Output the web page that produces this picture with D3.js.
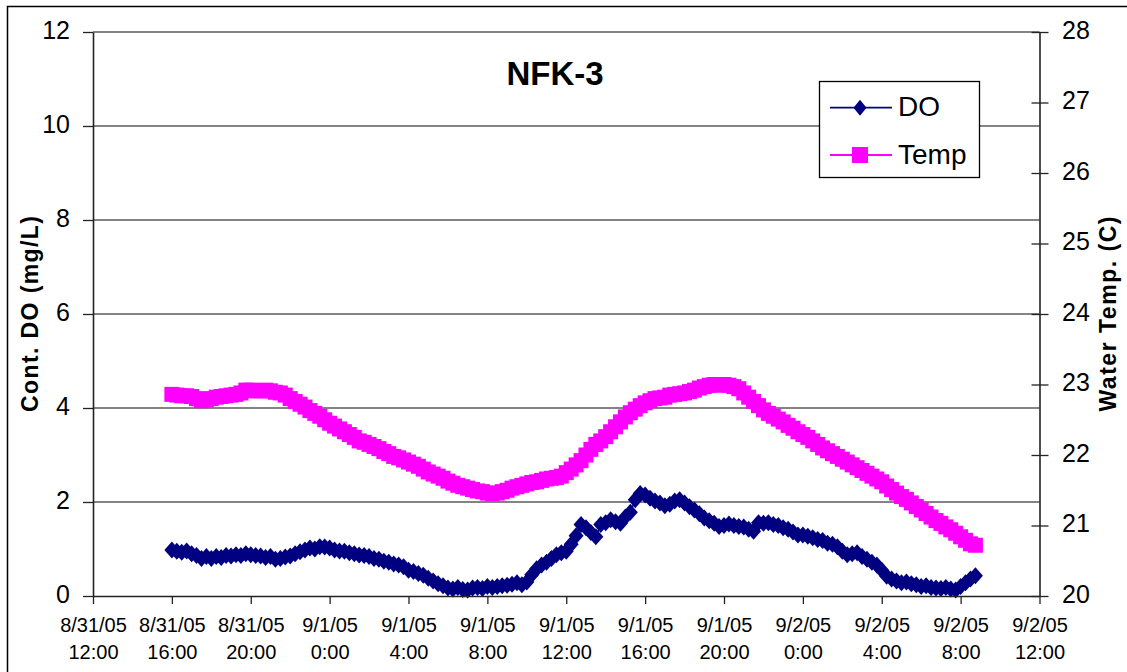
<!DOCTYPE html>
<html><head><meta charset="utf-8">
<script src="https://cdn.jsdelivr.net/npm/d3@7"></script>
<style>
body{margin:0;background:#fff;}
svg{display:block;font-family:"Liberation Sans",Arial,sans-serif;}
</style>
</head><body>
<svg id="c" width="1127" height="672"></svg>
<script>
// ---------- data ----------
const chartTitle = "NFK-3";
const leftTitle = "Cont. DO (mg/L)";
const rightTitle = "Water Temp. (C)";
const seriesNames = ["DO", "Temp"];
// readings every 15 minutes starting 8/31/05 16:00
const startTime = new Date(2005, 7, 31, 16, 0);
const stepMinutes = 15;
const doValues = [
  0.98,0.95,0.93,0.96,0.90,0.86,0.80,0.84,
  0.80,0.84,0.82,0.86,0.85,0.88,0.86,0.90,
  0.88,0.86,0.85,0.82,0.84,0.78,0.80,0.83,
  0.85,0.90,0.94,0.98,1.02,1.00,1.05,1.04,
  1.02,0.98,0.96,0.95,0.92,0.90,0.87,0.86,
  0.84,0.80,0.78,0.74,0.72,0.68,0.66,0.62,
  0.55,0.52,0.48,0.44,0.38,0.32,0.26,0.22,
  0.17,0.15,0.18,0.14,0.13,0.17,0.18,0.16,
  0.20,0.18,0.20,0.22,0.23,0.25,0.28,0.24,
  0.30,0.45,0.58,0.66,0.72,0.80,0.88,0.92,
  0.95,1.10,1.28,1.52,1.45,1.35,1.26,1.52,
  1.56,1.62,1.58,1.55,1.68,1.78,2.05,2.18,
  2.15,2.08,2.02,1.98,1.92,1.95,2.02,2.05,
  1.98,1.90,1.83,1.75,1.66,1.60,1.55,1.48,
  1.50,1.53,1.50,1.48,1.47,1.42,1.38,1.56,
  1.55,1.56,1.52,1.50,1.45,1.42,1.36,1.30,
  1.30,1.27,1.24,1.20,1.18,1.12,1.10,1.05,
  0.95,0.88,0.90,0.92,0.84,0.78,0.72,0.66,
  0.55,0.42,0.36,0.32,0.28,0.30,0.26,0.24,
  0.20,0.22,0.18,0.17,0.16,0.18,0.15,0.13,
  0.20,0.28,0.36,0.43
];
const tempValues = [
  22.86,22.85,22.84,22.84,22.83,22.80,22.77,22.78,
  22.80,22.82,22.83,22.84,22.85,22.86,22.88,22.92,
  22.92,22.91,22.91,22.92,22.91,22.89,22.88,22.85,
  22.80,22.76,22.72,22.68,22.63,22.59,22.55,22.50,
  22.45,22.41,22.37,22.33,22.29,22.25,22.20,22.18,
  22.15,22.12,22.09,22.05,22.02,21.98,21.96,21.93,
  21.90,21.87,21.84,21.80,21.76,21.73,21.70,21.67,
  21.63,21.60,21.57,21.55,21.53,21.51,21.49,21.48,
  21.46,21.45,21.46,21.48,21.50,21.53,21.55,21.57,
  21.59,21.61,21.62,21.64,21.66,21.67,21.68,21.70,
  21.75,21.80,21.86,21.92,22.00,22.08,22.15,22.20,
  22.26,22.33,22.40,22.47,22.54,22.60,22.65,22.70,
  22.74,22.77,22.80,22.81,22.82,22.85,22.86,22.87,
  22.88,22.90,22.92,22.95,22.97,22.99,23.00,22.99,
  23.00,22.99,22.97,22.94,22.88,22.82,22.76,22.70,
  22.64,22.59,22.55,22.51,22.47,22.42,22.38,22.33,
  22.29,22.25,22.20,22.15,22.10,22.06,22.02,21.98,
  21.94,21.90,21.86,21.82,21.78,21.74,21.70,21.66,
  21.62,21.56,21.51,21.46,21.41,21.37,21.32,21.27,
  21.22,21.17,21.12,21.07,21.03,20.98,20.94,20.89,
  20.84,20.79,20.74,20.72
];
const xDomain = [new Date(2005, 7, 31, 12, 0), new Date(2005, 8, 2, 12, 0)];
const xTickHours = [0,4,8,12,16,20,24,28,32,36,40,44,48];
const xTickLabels = [
  ["8/31/05","12:00"],["8/31/05","16:00"],["8/31/05","20:00"],
  ["9/1/05","0:00"],["9/1/05","4:00"],["9/1/05","8:00"],
  ["9/1/05","12:00"],["9/1/05","16:00"],["9/1/05","20:00"],
  ["9/2/05","0:00"],["9/2/05","4:00"],["9/2/05","8:00"],["9/2/05","12:00"]
];
const leftTicks = [0,2,4,6,8,10,12];
const rightTicks = [20,21,22,23,24,25,26,27,28];
const colors = {DO:"#000080", Temp:"#FF00FF"};

// ---------- layout ----------
const P = {left:93, right:1039.5, top:32, bottom:596};
const svg = d3.select("#c");

const x = d3.scaleTime().domain(xDomain).range([P.left, P.right]);
const yL = d3.scaleLinear().domain([0,12]).range([P.bottom, P.top]);
const yR = d3.scaleLinear().domain([20,28]).range([P.bottom, P.top]);

const doData = doValues.map((v, i) => ({t: d3.timeMinute.offset(startTime, i * stepMinutes), v}));
const tempData = tempValues.map((v, i) => ({t: d3.timeMinute.offset(startTime, i * stepMinutes), v}));

// outer frame
svg.append("rect").attr("x",7.5).attr("y",6.5).attr("width",1300).attr("height",900)
  .attr("fill","#fff").attr("stroke","#000").attr("stroke-width",1.5);

// gridlines
svg.append("g").selectAll("line").data(leftTicks.filter(d => d > 0)).join("line")
  .attr("x1", P.left).attr("x2", P.right)
  .attr("y1", d => yL(d)).attr("y2", d => yL(d))
  .attr("stroke", "#5a5a5a").attr("stroke-width", 1.3);

// series
const diamond = "M0,-8.5L7.5,0L0,8.5L-7.5,0Z";
const sq = 15;

svg.append("path").datum(tempData)
  .attr("fill","none").attr("stroke",colors.Temp).attr("stroke-width",1.5)
  .attr("d", d3.line().x(d => x(d.t)).y(d => yR(d.v)));
svg.append("g").selectAll("rect").data(tempData).join("rect")
  .attr("x", d => x(d.t) - sq/2).attr("y", d => yR(d.v) - sq/2)
  .attr("width", sq).attr("height", sq).attr("fill", colors.Temp);

svg.append("path").datum(doData)
  .attr("fill","none").attr("stroke",colors.DO).attr("stroke-width",1.5)
  .attr("d", d3.line().x(d => x(d.t)).y(d => yL(d.v)));
svg.append("g").selectAll("path").data(doData).join("path")
  .attr("d", diamond)
  .attr("transform", d => `translate(${x(d.t)},${yL(d.v)})`)
  .attr("fill", colors.DO);

// axes
const axisColor = "#222";
const gx = svg.append("g").attr("transform", `translate(0,${P.bottom})`)
  .call(d3.axisBottom(x)
    .tickValues(xTickHours.map(h => d3.timeHour.offset(xDomain[0], h)))
    .tickSize(8).tickSizeOuter(0).tickFormat(() => ""));
gx.selectAll("text").remove();
gx.selectAll(".tick").each(function(d, i) {
  const t = d3.select(this).append("text")
    .attr("fill","#000").attr("font-size","20px").attr("text-anchor","middle");
  t.append("tspan").attr("x",0).attr("y",36).text(xTickLabels[i][0]);
  t.append("tspan").attr("x",0).attr("y",63).text(xTickLabels[i][1]);
});

const gl = svg.append("g").attr("transform", `translate(${P.left},0)`)
  .call(d3.axisLeft(yL).tickValues(leftTicks).tickSize(10).tickSizeOuter(0).tickPadding(13));
gl.selectAll("text").attr("font-size","25px").attr("fill","#000").attr("dy","0.26em");

const gr = svg.append("g").attr("transform", `translate(${P.right},0)`)
  .call(d3.axisRight(yR).tickValues(rightTicks).tickSize(9).tickSizeOuter(0).tickPadding(13.5));
gr.selectAll(".tick line").attr("x1", -8);
gr.selectAll("text").attr("font-size","25px").attr("fill","#000").attr("dy","0.25em");

[gx, gl, gr].forEach(g => {
  g.select(".domain").attr("stroke", axisColor).attr("stroke-width", 1.6);
  g.selectAll(".tick line").attr("stroke", axisColor).attr("stroke-width", 1.3);
  g.attr("font-family", null);
});

// axis titles
svg.append("text")
  .attr("transform", `translate(38,${(P.top+P.bottom)/2}) rotate(-90)`)
  .attr("text-anchor","middle").attr("font-weight","bold").attr("font-size","23px")
  .attr("textLength",196).attr("lengthAdjust","spacing")
  .text(leftTitle);
svg.append("text")
  .attr("transform", `translate(1116,${(P.top+P.bottom)/2}) rotate(-90)`)
  .attr("text-anchor","middle").attr("font-weight","bold").attr("font-size","23px")
  .attr("textLength",195).attr("lengthAdjust","spacing")
  .text(rightTitle);

// title
svg.append("text").attr("x",555).attr("y",85).attr("text-anchor","middle")
  .attr("font-weight","bold").attr("font-size","33px").text(chartTitle);

// legend
const lg = svg.append("g");
lg.append("rect").attr("x",819.5).attr("y",81.5).attr("width",160).attr("height",96)
  .attr("fill","#fff").attr("stroke","#000").attr("stroke-width",1.3);
const rows = [
  {name: seriesNames[0], y: 107.7, color: colors.DO, kind: "diamond"},
  {name: seriesNames[1], y: 155, color: colors.Temp, kind: "square"}
];
rows.forEach(r => {
  lg.append("line").attr("x1",830).attr("x2",892).attr("y1",r.y).attr("y2",r.y)
    .attr("stroke", r.color).attr("stroke-width",1.8);
  if (r.kind === "diamond") {
    lg.append("path").attr("d","M0,-8L6.5,0L0,8L-6.5,0Z")
      .attr("transform",`translate(860,${r.y})`).attr("fill", r.color);
  } else {
    lg.append("rect").attr("x",860-8).attr("y",r.y-8).attr("width",16).attr("height",16)
      .attr("fill", r.color);
  }
  lg.append("text").attr("x",898).attr("y",r.y+8.5).attr("font-size","28px")
    .attr("fill","#000").text(r.name);
});
</script>
</body></html>
